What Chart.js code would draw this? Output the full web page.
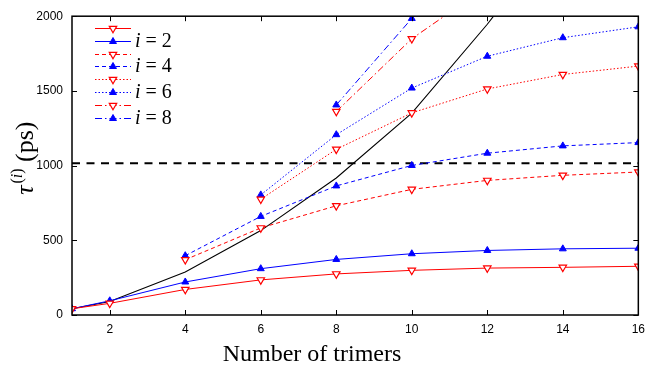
<!DOCTYPE html>
<html lang="en">
<head>
<meta charset="UTF-8">
<title>tau(i) vs number of trimers</title>
<script src="https://cdn.jsdelivr.net/npm/chart.js"></script>
<style>
  body { margin: 0; background: #fff; }
  #wrap { width: 652px; height: 367px; }
</style>
</head>
<body>
<div id="wrap"><canvas id="tauChart" width="652" height="367"></canvas></div>
<script>
// --- values ---
const xAll = [1, 2, 4, 6, 8, 10, 12, 14, 16];
const red2 = [42, 78, 171, 235, 275, 299, 314, 319, 326];
const blue2 = [42, 95, 221, 310, 372, 410, 432, 443, 447];
const blackCurve = [42, 90, 288, 565, 917, 1351, 1946, 2600, 3300];

const x4 = [4, 6, 8, 10, 12, 14, 16];
const red4 = [370, 583, 731, 841, 901, 935, 957];
const blue4 = [397, 660, 864, 1001, 1083, 1132, 1154];

const x6 = [6, 8, 10, 12, 14, 16];
const red6 = [775, 1109, 1353, 1513, 1610, 1666];
const blue6 = [804, 1207, 1519, 1732, 1856, 1929];

const x8 = [8, 10, 12];
const red8 = [1362, 1849, 2200];
const blue8 = [1406, 1985, 2400];

const refLevel = 1015;
const xTicks = [2, 4, 6, 8, 10, 12, 14, 16];
const yTicks = [0, 500, 1000, 1500, 2000];

const RED = '#ff0000';
const BLUE = '#0000ff';
const dashes = { 2: [], 4: [4, 3], 6: [1.5, 2], 8: [7, 3, 1.5, 3] };

function pts(xs, ys) {
    return xs.map((x, i) => ({ x: x, y: ys[i] }));
}

function redSet(n, xs, ys) {
    return {
        label: 'i = ' + n + ' (red)',
        data: pts(xs, ys),
        borderColor: RED,
        borderWidth: 1,
        borderDash: dashes[n],
        pointStyle: 'triangle',
        pointRotation: 180,
        pointRadius: 4.3,
        pointBorderWidth: 1.2,
        pointBorderColor: RED,
        pointBackgroundColor: '#fff',
        tension: 0
    };
}

function blueSet(n, xs, ys) {
    return {
        label: 'i = ' + n,
        legendText: '' + n,
        data: pts(xs, ys),
        borderColor: BLUE,
        borderWidth: 1,
        borderDash: dashes[n],
        pointStyle: 'triangle',
        pointRadius: 4,
        pointBorderWidth: 1,
        pointBorderColor: BLUE,
        pointBackgroundColor: BLUE,
        tension: 0
    };
}

const datasets = [
    redSet(2, xAll, red2), blueSet(2, xAll, blue2),
    redSet(4, x4, red4), blueSet(4, x4, blue4),
    redSet(6, x6, red6), blueSet(6, x6, blue6),
    redSet(8, x8, red8), blueSet(8, x8, blue8),
    {
        label: 'curve',
        noLegend: true,
        data: pts(xAll, blackCurve),
        borderColor: '#000',
        borderWidth: 1.1,
        pointRadius: 0,
        tension: 0
    },
    {
        label: 'reference',
        noLegend: true,
        data: pts([1, 16], [refLevel, refLevel]),
        borderColor: '#000',
        borderWidth: 2,
        borderDash: [8, 6.5],
        pointRadius: 0
    }
];

// small triangle for the legend samples
function triangle(ctx, x, y, r, down, fill, stroke, lw) {
    const s = down ? -1 : 1;
    ctx.beginPath();
    ctx.moveTo(x, y - s * r);
    ctx.lineTo(x + r * 0.866, y + s * r * 0.5);
    ctx.lineTo(x - r * 0.866, y + s * r * 0.5);
    ctx.closePath();
    ctx.fillStyle = fill;
    ctx.fill();
    ctx.strokeStyle = stroke;
    ctx.lineWidth = lw;
    ctx.setLineDash([]);
    ctx.stroke();
}

// frame and inward ticks, gnuplot style
const framePlugin = {
    id: 'frame',
    afterDatasetsDraw(chart) {
        const { ctx, chartArea: a, scales } = chart;
        ctx.save();
        ctx.strokeStyle = '#000';
        ctx.lineWidth = 1.5;
        ctx.setLineDash([]);
        ctx.strokeRect(a.left, a.top, a.right - a.left, a.bottom - a.top);
        ctx.lineWidth = 1;
        ctx.beginPath();
        xTicks.forEach(v => {
            const px = Math.round(scales.x.getPixelForValue(v)) + 0.5;
            ctx.moveTo(px, a.bottom); ctx.lineTo(px, a.bottom - 5);
            ctx.moveTo(px, a.top); ctx.lineTo(px, a.top + 5);
        });
        yTicks.forEach(v => {
            const py = Math.round(scales.y.getPixelForValue(v)) + 0.5;
            ctx.moveTo(a.left, py); ctx.lineTo(a.left + 5, py);
            ctx.moveTo(a.right, py); ctx.lineTo(a.right - 5, py);
        });
        ctx.stroke();
        ctx.restore();
    }
};

// legend in the top-left corner of the plot
const legendPlugin = {
    id: 'cornerLegend',
    afterDraw(chart) {
        const { ctx, chartArea: a } = chart;
        const rows = chart.data.datasets.filter(d => !d.noLegend);
        ctx.save();
        rows.forEach((d, i) => {
            const y = Math.round(a.top + 11.7 + i * 12.8) + 0.5;
            const x0 = a.left + 23, x1 = a.left + 59;
            ctx.strokeStyle = d.borderColor;
            ctx.lineWidth = 1.2;
            ctx.setLineDash(d.borderDash);
            ctx.beginPath();
            ctx.moveTo(x0, y); ctx.lineTo(x1, y);
            ctx.stroke();
            const isRed = d.borderColor === RED;
            triangle(ctx, (x0 + x1) / 2, y, isRed ? 4.3 : 4, isRed,
                     isRed ? '#fff' : BLUE, d.borderColor, isRed ? 1.2 : 1);
            if (d.legendText) {
                ctx.fillStyle = '#000';
                ctx.textBaseline = 'middle';
                ctx.textAlign = 'left';
                let tx = a.left + 63;
                ctx.font = 'italic 20px "Liberation Serif"';
                ctx.fillText('i', tx, y);
                tx += ctx.measureText('i').width;
                ctx.font = '20px "Liberation Serif"';
                ctx.fillText(' = ' + d.legendText, tx, y);
            }
        });
        ctx.restore();
    }
};

// axis titles
const titlePlugin = {
    id: 'axisTitles',
    afterDraw(chart) {
        const { ctx, chartArea: a } = chart;
        ctx.save();
        ctx.fillStyle = '#000';
        ctx.textAlign = 'center';
        ctx.textBaseline = 'middle';
        ctx.font = '24px "Liberation Serif"';
        ctx.fillText('Number of trimers', a.left + 240, a.bottom + 40);

        // tau^(i) (ps), rotated
        ctx.translate(a.left - 39, a.top + 143);
        ctx.rotate(-Math.PI / 2);
        ctx.textAlign = 'left';
        ctx.textBaseline = 'alphabetic';
        const big = '26px "Liberation Serif"';
        const bigIt = 'italic 26px "Liberation Serif"';
        const sup = '16px "Liberation Serif"';
        const supIt = 'italic 16px "Liberation Serif"';
        const parts = [
            { t: '\u03C4', f: bigIt, dy: 0 },
            { t: '(', f: sup, dy: -11 },
            { t: 'i', f: supIt, dy: -11 },
            { t: ')', f: sup, dy: -11 },
            { t: ' (ps)', f: big, dy: 0 }
        ];
        let total = 0;
        parts.forEach(p => { ctx.font = p.f; p.w = ctx.measureText(p.t).width; total += p.w; });
        let x = -total / 2;
        parts.forEach(p => {
            ctx.font = p.f;
            ctx.fillText(p.t, x, p.dy);
            x += p.w + (p.t === '\u03C4' ? 2 : 0);
        });
        ctx.restore();
    }
};

new Chart(document.getElementById('tauChart'), {
    type: 'line',
    data: { datasets: datasets },
    options: {
        responsive: false,
        animation: false,
        layout: { padding: { top: 14, right: 10, left: 0, bottom: 0 } },
        plugins: {
            legend: { display: false },
            tooltip: { enabled: false }
        },
        scales: {
            x: {
                type: 'linear',
                min: 1,
                max: 16,
                grid: { display: false, drawTicks: false },
                border: { display: false },
                afterBuildTicks: s => { s.ticks = xTicks.map(v => ({ value: v })); },
                afterFit: s => { s.height = 52; },
                ticks: {
                    color: '#000',
                    padding: 7,
                    maxRotation: 0,
                    callback: v => String(v),
                    font: { family: '"Liberation Sans"', size: 12 }
                }
            },
            y: {
                type: 'linear',
                min: 0,
                max: 2000,
                grid: { display: false, drawTicks: false },
                border: { display: false },
                afterBuildTicks: s => { s.ticks = yTicks.map(v => ({ value: v })); },
                afterFit: s => { s.width = 72; },
                ticks: {
                    color: '#000',
                    padding: 9,
                    callback: v => String(v),
                    font: { family: '"Liberation Sans"', size: 12 }
                }
            }
        }
    },
    plugins: [framePlugin, legendPlugin, titlePlugin]
});
</script>
</body>
</html>
